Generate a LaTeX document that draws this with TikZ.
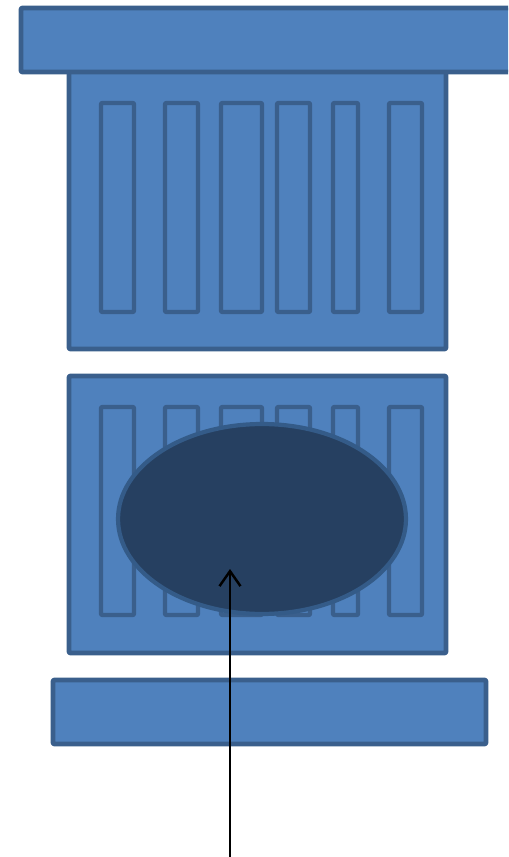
\documentclass[tikz,border=0pt]{standalone}
\usepackage{tikz}
\usetikzlibrary{arrows.meta,shapes.geometric}

\definecolor{colfill}{HTML}{4F81BD}
\definecolor{coledge}{HTML}{3A5F8C}
\definecolor{holefill}{HTML}{264061}
\definecolor{holeedge}{HTML}{345B88}

\begin{document}
\begin{tikzpicture}[
    x=0.02cm, y=-0.02cm,
    part/.style={fill=colfill, draw=coledge, line width=2.6pt, rounded corners=0.5pt, line join=round},
    slat/.style={part, line width=2.4pt},
    hole/.style={fill=holefill, draw=holeedge, line width=2.4pt},
    fl/.style={-{Straight Barb[length=3mm, width=4.2mm, line width=1.4pt]}, line width=1.4pt, black},
]
    \useasboundingbox (0,0) rectangle (508,857);
    \clip (0,0) rectangle (508,857);
    % upper shaft
    \draw[part] (69,60) rectangle (446,349);
    \foreach \l/\r in {101/134, 165/198, 221/262, 277/310, 333/358, 389/422}
        \draw[slat] (\l,103) rectangle (\r,312);
    % capital
    \draw[part] (21,8) rectangle (530,72);
    % lower shaft
    \draw[part] (69,376) rectangle (446,653);
    \foreach \l/\r in {101/134, 165/198, 221/262, 277/310, 333/358, 389/422}
        \draw[slat] (\l,407) rectangle (\r,615);
    \node[hole, ellipse, minimum width=5.76cm, minimum height=3.8cm, inner sep=0pt] (gap) at (262,519) {};
    % base
    \draw[part] (53,680) rectangle (486,744);
    % pointer
    \coordinate (tail) at (230,860);
    \coordinate (tip) at (230,569);
    \draw[fl] (tail) -- (tip);
\end{tikzpicture}
\end{document}
